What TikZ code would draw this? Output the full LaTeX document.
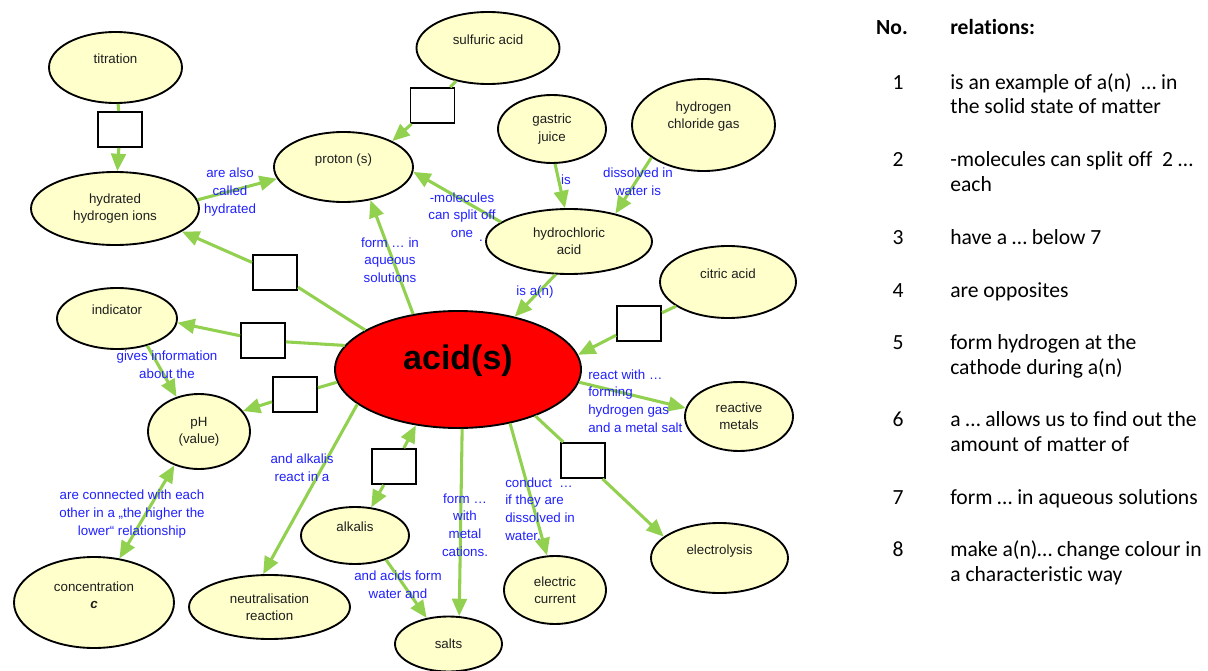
\documentclass[tikz,border=0pt]{standalone}
\usepackage{fontspec}
\setmainfont{Liberation Sans}
\newfontfamily\calfont{Carlito}[Ligatures=NoCommon]
\usetikzlibrary{shapes.geometric,arrows.meta}
\definecolor{cfill}{RGB}{255,255,204}
\definecolor{cgreen}{RGB}{146,208,80}
\definecolor{cblue}{RGB}{32,32,255}
\definecolor{ctext}{RGB}{30,30,30}
\begin{document}
\begin{tikzpicture}[x=0.75pt,y=-0.75pt,
  cnode/.style={ellipse, draw=black, line width=1.4pt, fill=cfill, inner sep=0pt, align=center,
    font=\fontsize{10}{13}\selectfont, text=ctext},
  oneline/.style={text height=7.5pt, text depth=13.5pt},
  slot/.style={rectangle, draw=black, line width=1.4pt, fill=white, minimum width=33pt, minimum height=26.25pt, inner sep=0pt},
  conn/.style={draw=cgreen, line width=2.3pt},
  arr/.style={conn, -{Triangle[length=13pt,width=11pt]}},
  dbl/.style={conn, {Triangle[length=13pt,width=11pt]}-{Triangle[length=13pt,width=11pt]}},
  lab/.style={text=cblue, font=\fontsize{10}{13.3}\selectfont, align=center, inner sep=0pt},
  labl/.style={lab, align=left, anchor=west},
  num/.style={anchor=base, inner sep=0pt, font=\calfont\fontsize{16.2}{18.75}\selectfont},
  rel/.style={anchor=base west, inner sep=0pt, font=\calfont\fontsize{16.2}{18.75}\selectfont}
]
\useasboundingbox (0,0) rectangle (1208,671);

% concepts
\node[cnode, oneline, minimum width=99.75pt, minimum height=53.25pt] (titration) at (115.5,67.5) {titration};
\node[cnode, minimum width=126pt, minimum height=54.75pt] (hydrated) at (115,208.5) {hydrated\\hydrogen ions};
\node[cnode, oneline, minimum width=104.25pt, minimum height=52.5pt] (proton) at (343.5,167) {proton (s)};
\node[cnode, oneline, minimum width=107.25pt, minimum height=54pt] (sulfuric) at (488,48) {sulfuric acid};
\node[cnode, minimum width=81pt, minimum height=51pt] (gastric) at (552,129) {gastric\\juice};
\node[cnode, minimum width=107.25pt, minimum height=69pt, text height=8pt, text depth=28pt] (hclgas) at (703.5,125)
  {\begin{tabular}[t]{@{}c@{}}hydrogen\\chloride gas\end{tabular}};
\node[cnode, minimum width=124.5pt, minimum height=48.75pt] (hydrochloric) at (569,241.5) {hydrochloric\\acid};
\node[cnode, oneline, minimum width=102pt, minimum height=54pt] (citric) at (728,282) {citric acid};
\node[ellipse, draw=black, line width=1.4pt, fill=red, inner sep=0pt, minimum width=184.5pt, minimum height=87.75pt,
  font=\bfseries\fontsize{25.5}{30}\selectfont, text height=19pt, text depth=19pt] (acid) at (458,369.5) {acid(s)};
\node[cnode, oneline, minimum width=90pt, minimum height=45.75pt] (indicator) at (117,318.5) {indicator};
\node[cnode, minimum width=76.5pt, minimum height=56.25pt] (ph) at (199,431.5) {pH\\(value)};
\node[cnode, minimum width=81pt, minimum height=51.75pt] (reactive) at (739,416.5) {reactive\\metals};
\node[cnode, oneline, minimum width=102.75pt, minimum height=52.5pt] (electrolysis) at (719.5,558) {electrolysis};
\node[cnode, minimum width=76.5pt, minimum height=51pt] (current) at (555,590) {electric\\current};
\node[cnode, oneline, minimum width=81pt, minimum height=42.75pt] (alkalis) at (355,535.5) {alkalis};
\node[cnode, minimum width=120pt, minimum height=68.25pt, text height=8pt, text depth=24.5pt] (conc) at (94,602.5)
  {\begin{tabular}[t]{@{}c@{}}concentration\\\textbf{\textit{c}}\end{tabular}};
\node[cnode, minimum width=120.75pt, minimum height=48pt] (neutral) at (269.5,607) {neutralisation\\reaction};
\node[cnode, minimum width=80.25pt, minimum height=41.25pt] (salts) at (448.5,644) {salts};

% empty boxes
\node[slot] (r1) at (120,129.5) {};
\node[slot] (r2) at (432.5,105.5) {};
\node[slot] (r3) at (275,272.5) {};
\node[slot] (r4) at (263,340.5) {};
\node[slot] (r5) at (295,394.5) {};
\node[slot] (r6) at (394,466.5) {};
\node[slot] (r7) at (583,460.5) {};
\node[slot] (r8) at (639,323.5) {};

% connectors
\draw[conn] (titration) -- (r1);
\draw[arr] (r1) -- (hydrated);
\draw[arr] (hydrated.6) -- (proton.190);
\draw[conn] (sulfuric) -- (r2);
\draw[arr] (r2) -- (proton.28);
\draw[conn] (acid.157) -- (r3);
\draw[arr] (r3) -- (hydrated.-19);
\draw[conn] (acid.168) -- (r4);
\draw[arr] (r4) -- (indicator.-4);
\draw[conn] (acid.186) -- (r5);
\draw[arr] (r5) -- (ph.25);
\draw[arr] (acid.129) -- (proton.-51);
\draw[arr] (hydrochloric.164) -- (proton.-4);
\draw[arr] (gastric.-85) -- (hydrochloric.97);
\draw[arr] (hclgas.212) -- (hydrochloric.31);
\draw[arr] (hydrochloric.-112) -- (acid.43);
\draw[conn] (citric) -- (r8);
\draw[arr] (r8) -- (acid.7);
\draw[arr] (acid.-6) -- (reactive.171);
\draw[conn] (acid.-31) -- (r7);
\draw[arr] (r7) -- (electrolysis.159);
\draw[arr] (acid.-46) -- (current.103);
\draw[arr] (acid.-86) -- (salts.69);
\draw[arr] (r6) -- (acid.233);
\draw[arr] (r6) -- (alkalis.60);
\draw[arr] (acid.199) -- (neutral.101);
\draw[arr] (indicator.-42) -- (ph.123);
\draw[dbl] (ph.234) -- (conc.60);
\draw[arr] (alkalis.-38) -- (salts.130);

% link labels
\node[lab] (l1) at (230,192) {are also\\called\\hydrated};
\node[lab] (l2) at (390,260) {form … in\\aqueous\\solutions};
\node[lab] (l3) at (462,215) {-molecules\\can split off\\one};
\node[lab] (l3b) at (481,241) {.};
\node[lab] (l4) at (566,180) {is};
\node[lab] (l5) at (638,182) {dissolved in\\water is};
\node[lab] (l6) at (535,292) {is a(n)};
\node[labl] (l7) at (588,401) {react with …\\forming\\hydrogen gas\\and a metal salt};
\node[labl] (l8) at (505,509) {conduct~ …\\if they are\\dissolved in\\water.};
\node[lab] (l9) at (465,525) {form …\\with\\metal\\cations.};
\node[lab] (l10) at (302,468) {and alkalis\\react in a};
\node[lab] (l11) at (167,365) {gives information\\about the};
\node[lab] (l12) at (132,514) {are connected with each\\other in a „the higher the\\lower“ relationship};
\node[lab] (l13) at (398,585) {and acids form\\water and};

% relation list
\node[num] (h0) at (892,35) {\bfseries No.};
\node[rel] (h1) at (950,35) {\bfseries relations:};
\node[num] (n1) at (898,89) {1};
\node[rel] (t1) at (950,89) {\begin{tabular}[t]{@{}l@{}}is an example of a(n)~ … in\\the solid state of matter\end{tabular}};
\node[num] (n2) at (898,166) {2};
\node[rel] (t2) at (950,166) {\begin{tabular}[t]{@{}l@{}}-molecules can split off~ 2 …\\each\end{tabular}};
\node[num] (n3) at (898,244) {3};
\node[rel] (t3) at (950,244) {have a … below 7};
\node[num] (n4) at (898,297) {4};
\node[rel] (t4) at (950,297) {are opposites};
\node[num] (n5) at (898,349) {5};
\node[rel] (t5) at (950,349) {\begin{tabular}[t]{@{}l@{}}form hydrogen at the\\cathode during a(n)\end{tabular}};
\node[num] (n6) at (898,426) {6};
\node[rel] (t6) at (950,426) {\begin{tabular}[t]{@{}l@{}}a … allows us to find out the\\amount of matter of\end{tabular}};
\node[num] (n7) at (898,504) {7};
\node[rel] (t7) at (950,504) {form … in aqueous solutions};
\node[num] (n8) at (898,556) {8};
\node[rel] (t8) at (950,556) {\begin{tabular}[t]{@{}l@{}}make a(n)… change colour in\\a characteristic way\end{tabular}};
\end{tikzpicture}
\end{document}
